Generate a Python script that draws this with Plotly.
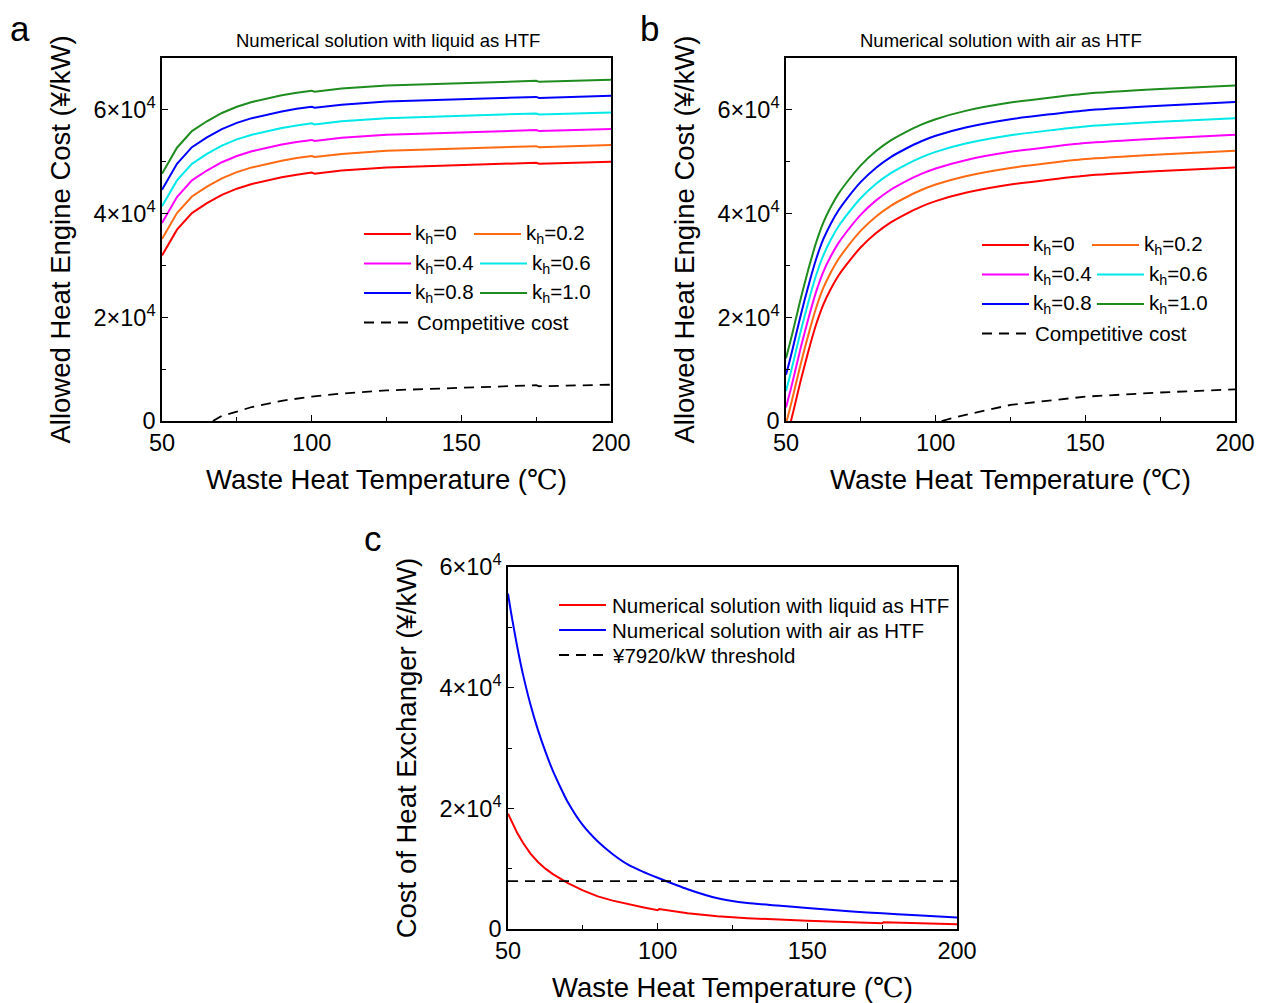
import plotly.graph_objects as go

# page body adds an 8 px offset; the figure is sized so that it ends at the window edge
OFF = 8
W, H = 1263 - OFF, 1003 - OFF

# ---------------- data ----------------
# Panel a: liquid as HTF (allowed heat engine cost, CNY/kW)
xa = [50, 52, 55, 60, 65, 70, 75, 80, 85, 90, 95, 100, 101, 110, 125, 150, 175, 176, 200]
a_k00 = [31900, 34000, 36900, 40100, 42000, 43600, 44800, 45700, 46400, 47000, 47500, 47900, 47700, 48300, 48900, 49400, 49800, 49600, 50000]
a_k02 = [35100, 37200, 40100, 43300, 45200, 46800, 48000, 48900, 49600, 50200, 50700, 51100, 50900, 51500, 52100, 52600, 53000, 52800, 53200]
a_k04 = [38200, 40300, 43200, 46400, 48300, 49900, 51100, 52000, 52700, 53300, 53800, 54200, 54000, 54600, 55200, 55700, 56100, 55900, 56300]
a_k06 = [41400, 43500, 46400, 49600, 51500, 53100, 54300, 55200, 55900, 56500, 57000, 57400, 57200, 57800, 58400, 58900, 59300, 59100, 59500]
a_k08 = [44600, 46700, 49600, 52800, 54700, 56300, 57500, 58400, 59100, 59700, 60200, 60600, 60400, 61000, 61600, 62100, 62500, 62300, 62700]
a_k10 = [47700, 49800, 52700, 55900, 57800, 59400, 60600, 61500, 62200, 62800, 63300, 63700, 63500, 64100, 64700, 65200, 65600, 65400, 65800]
xa_comp = [67, 70, 75, 80, 90, 100, 110, 125, 150, 175, 176, 200]
a_comp = [0, 1000, 1800, 2700, 3900, 4700, 5300, 5900, 6400, 6900, 6700, 7000]

# Panel b: air as HTF
xb = [50, 51, 52, 53, 55, 57.5, 60, 62.5, 65, 67.5, 70, 75, 80, 85, 90, 95, 100, 110, 125, 150, 175, 200]
b_k00 = [-3700, -1500, 800, 3200, 8000, 13500, 18500, 22500, 25500, 28000, 30000, 33500, 36200, 38300, 39900, 41300, 42400, 44000, 45600, 47300, 48200, 48900]
b_k02 = [-500, 1700, 4000, 6400, 11200, 16700, 21700, 25700, 28700, 31200, 33200, 36700, 39400, 41500, 43100, 44500, 45600, 47200, 48800, 50500, 51400, 52100]
b_k04 = [2600, 4800, 7100, 9500, 14300, 19800, 24800, 28800, 31800, 34300, 36300, 39800, 42500, 44600, 46200, 47600, 48700, 50300, 51900, 53600, 54500, 55200]
b_k06 = [5800, 8000, 10300, 12700, 17500, 23000, 28000, 32000, 35000, 37500, 39500, 43000, 45700, 47800, 49400, 50800, 51900, 53500, 55100, 56800, 57700, 58400]
b_k08 = [8900, 11100, 13400, 15800, 20600, 26100, 31100, 35100, 38100, 40600, 42600, 46100, 48800, 50900, 52500, 53900, 55000, 56600, 58200, 59900, 60800, 61500]
b_k10 = [12100, 14300, 16600, 19000, 23800, 29300, 34300, 38300, 41300, 43800, 45800, 49300, 52000, 54100, 55700, 57100, 58200, 59800, 61400, 63100, 64000, 64700]
xb_comp = [102, 110, 125, 150, 175, 200]
b_comp = [0, 1200, 3100, 4700, 5500, 6100]

# Panel c: cost of heat exchanger
xc_liq = [50, 51, 52, 53, 55, 57.5, 60, 62.5, 65, 67.5, 70, 75, 80, 85, 90, 95, 100, 100.5, 110, 120, 130, 140, 150, 165, 175, 175.5, 185, 200]
c_liq = [19100, 18000, 17000, 16000, 14300, 12500, 11100, 10000, 9100, 8300, 7600, 6400, 5400, 4700, 4100, 3600, 3100, 3300, 2600, 2100, 1800, 1550, 1350, 1100, 950, 1100, 950, 800]
xc_air = [50, 51, 52, 53, 54, 55, 57.5, 60, 62.5, 65, 67.5, 70, 75, 80, 85, 90, 95, 100, 110, 120, 130, 140, 150, 165, 175, 185, 200]
c_air = [55600, 52500, 49700, 47000, 44500, 42200, 37200, 33000, 29400, 26200, 23500, 21000, 17200, 14500, 12400, 10700, 9500, 8500, 6600, 5100, 4300, 3900, 3500, 2900, 2600, 2300, 1900]
xc_thr = [50, 200]
c_thr = [7920, 7920]

k_labels = ["k<sub>h</sub>=0", "k<sub>h</sub>=0.2", "k<sub>h</sub>=0.4",
            "k<sub>h</sub>=0.6", "k<sub>h</sub>=0.8", "k<sub>h</sub>=1.0"]
k_colors = ["#FF0000", "#FF6A13", "#FF00FF", "#00E8E8", "#0000FF", "#1E8C1E"]

y_tickvals = [0, 20000, 40000, 60000]
y_ticktext = ["0", "2×10<sup>4</sup>", "4×10<sup>4</sup>", "6×10<sup>4</sup>"]
x_tickvals = [50, 100, 150, 200]

FONT = "Liberation Sans, Arial, sans-serif"
DASH = "10px,7px"

def px(x):
    return (x - OFF) / W

def py(y):
    return 1 - (y - OFF) / H

fig = go.Figure()

for ys, col, lab in zip([a_k00, a_k02, a_k04, a_k06, a_k08, a_k10], k_colors, k_labels):
    fig.add_trace(go.Scatter(x=xa, y=ys, mode="lines", line=dict(color=col, width=2),
                             name=lab, showlegend=False, xaxis="x", yaxis="y"))
fig.add_trace(go.Scatter(x=xa_comp, y=a_comp, mode="lines", line=dict(color="black", width=1.8, dash=DASH),
                         name="Competitive cost", showlegend=False, xaxis="x", yaxis="y"))

for ys, col, lab in zip([b_k00, b_k02, b_k04, b_k06, b_k08, b_k10], k_colors, k_labels):
    fig.add_trace(go.Scatter(x=xb, y=ys, mode="lines", line=dict(color=col, width=2, shape="spline", smoothing=0.6),
                             name=lab, showlegend=False, xaxis="x2", yaxis="y2"))
fig.add_trace(go.Scatter(x=xb_comp, y=b_comp, mode="lines", line=dict(color="black", width=1.8, dash=DASH),
                         name="Competitive cost", showlegend=False, xaxis="x2", yaxis="y2"))

fig.add_trace(go.Scatter(x=xc_liq, y=c_liq, mode="lines", line=dict(color="#FF0000", width=2),
                         name="Numerical solution with liquid as HTF", showlegend=False, xaxis="x3", yaxis="y3"))
fig.add_trace(go.Scatter(x=xc_air, y=c_air, mode="lines", line=dict(color="#0000FF", width=2, shape="spline", smoothing=0.6),
                         name="Numerical solution with air as HTF", showlegend=False, xaxis="x3", yaxis="y3"))
fig.add_trace(go.Scatter(x=xc_thr, y=c_thr, mode="lines", line=dict(color="black", width=1.8, dash=DASH),
                         name="¥7920/kW threshold", showlegend=False, xaxis="x3", yaxis="y3"))

xtitle = "Waste Heat Temperature (<span style=\"font-family:'DejaVu Serif', 'Liberation Serif', serif\">℃</span>)"

def xaxis(domain, anchor):
    return dict(domain=domain, anchor=anchor, range=[50, 200], tickvals=x_tickvals, automargin=False,
                showline=True, linecolor="black", linewidth=1.5, mirror=True,
                ticks="inside", ticklen=6, tickwidth=1.2, tickcolor="black",
                minor=dict(ticks="inside", ticklen=4, tickwidth=1.2, tickcolor="black", dtick=25, tick0=50),
                showgrid=False, zeroline=False,
                tickfont=dict(family=FONT, size=23.5, color="black"),
                title=dict(text=xtitle, font=dict(family=FONT, size=27.5, color="black"), standoff=15))

def yaxis(domain, anchor, rng, title):
    return dict(domain=domain, anchor=anchor, range=rng, tickvals=y_tickvals, ticktext=y_ticktext, automargin=False,
                showline=True, linecolor="black", linewidth=1.5, mirror=True,
                ticks="inside", ticklen=6, tickwidth=1.2, tickcolor="black",
                minor=dict(ticks="inside", ticklen=4, tickwidth=1.2, tickcolor="black", dtick=10000, tick0=0),
                showgrid=False, zeroline=False,
                tickfont=dict(family=FONT, size=23.5, color="black"),
                title=dict(text=title, font=dict(family=FONT, size=27.5, color="black"), standoff=15))

ytitle_ab = "Allowed Heat Engine Cost (¥/kW)"
ytitle_c = "Cost of Heat Exchanger (¥/kW)"

fig.update_layout(
    width=W, height=H, margin=dict(l=0, r=0, t=0, b=0, autoexpand=False),
    paper_bgcolor="white", plot_bgcolor="white", showlegend=False,
    xaxis=xaxis([px(162), px(611)], "y"),
    yaxis=yaxis([py(421), py(58)], "x", [0, 70000], ytitle_ab),
    xaxis2=xaxis([px(786), px(1235)], "y2"),
    yaxis2=yaxis([py(421), py(58)], "x2", [0, 70000], ytitle_ab),
    xaxis3=xaxis([px(508), px(957)], "y3"),
    yaxis3=yaxis([py(929), py(567)], "x3", [0, 60000], ytitle_c),
)

annotations = []
shapes = []

def text(x, y, s, size, xanchor="left", yanchor="middle"):
    annotations.append(dict(x=px(x), y=py(y), xref="paper", yref="paper", text=s, showarrow=False,
                            xanchor=xanchor, yanchor=yanchor, borderpad=0,
                            font=dict(family=FONT, size=size, color="black")))

def seg(x0, x1, y, color, dash="solid"):
    shapes.append(dict(type="line", xref="paper", yref="paper", x0=px(x0), x1=px(x1), y0=py(y), y1=py(y),
                       line=dict(color=color, width=2 if dash == "solid" else 1.8, dash=dash)))

# panel letters and titles
text(20, 8, "a", 35, "center", "top")
text(649, 8, "b", 35, "center", "top")
text(373, 518, "c", 35, "center", "top")
text(388, 41, "Numerical solution with liquid as HTF", 18.5, "center")
text(1001, 41, "Numerical solution with air as HTF", 18.5, "center")

# legends panels a and b
def k_legend(x0, y0, dy, dx2, dx2b):
    rows = [(0, 1), (2, 3), (4, 5)]
    for r, (i, j) in enumerate(rows):
        yy = y0 + r * dy
        seg(x0, x0 + 47, yy, k_colors[i])
        text(x0 + 50, yy, k_labels[i], 20.5)
        off = dx2 if r == 0 else dx2b
        seg(x0 + off, x0 + off + 47, yy, k_colors[j])
        text(x0 + off + 51, yy, k_labels[j], 20.5)
    yy = y0 + 3 * dy
    seg(x0, x0 + 47, yy, "black", DASH)
    text(x0 + 52, yy, "Competitive cost", 20.5)

k_legend(364, 234, 29.5, 110, 116)
k_legend(982, 245, 29.5, 110, 115)

# legend panel c
seg(559, 606, 605, "#FF0000")
text(611, 605, "Numerical solution with liquid as HTF", 20.5)
seg(559, 606, 630, "#0000FF")
text(611, 630, "Numerical solution with air as HTF", 20.5)
seg(559, 606, 655, "black", DASH)
text(611, 655, "¥7920/kW threshold", 20.5)

fig.update_layout(annotations=annotations, shapes=shapes)
fig.write_html("out.html")
